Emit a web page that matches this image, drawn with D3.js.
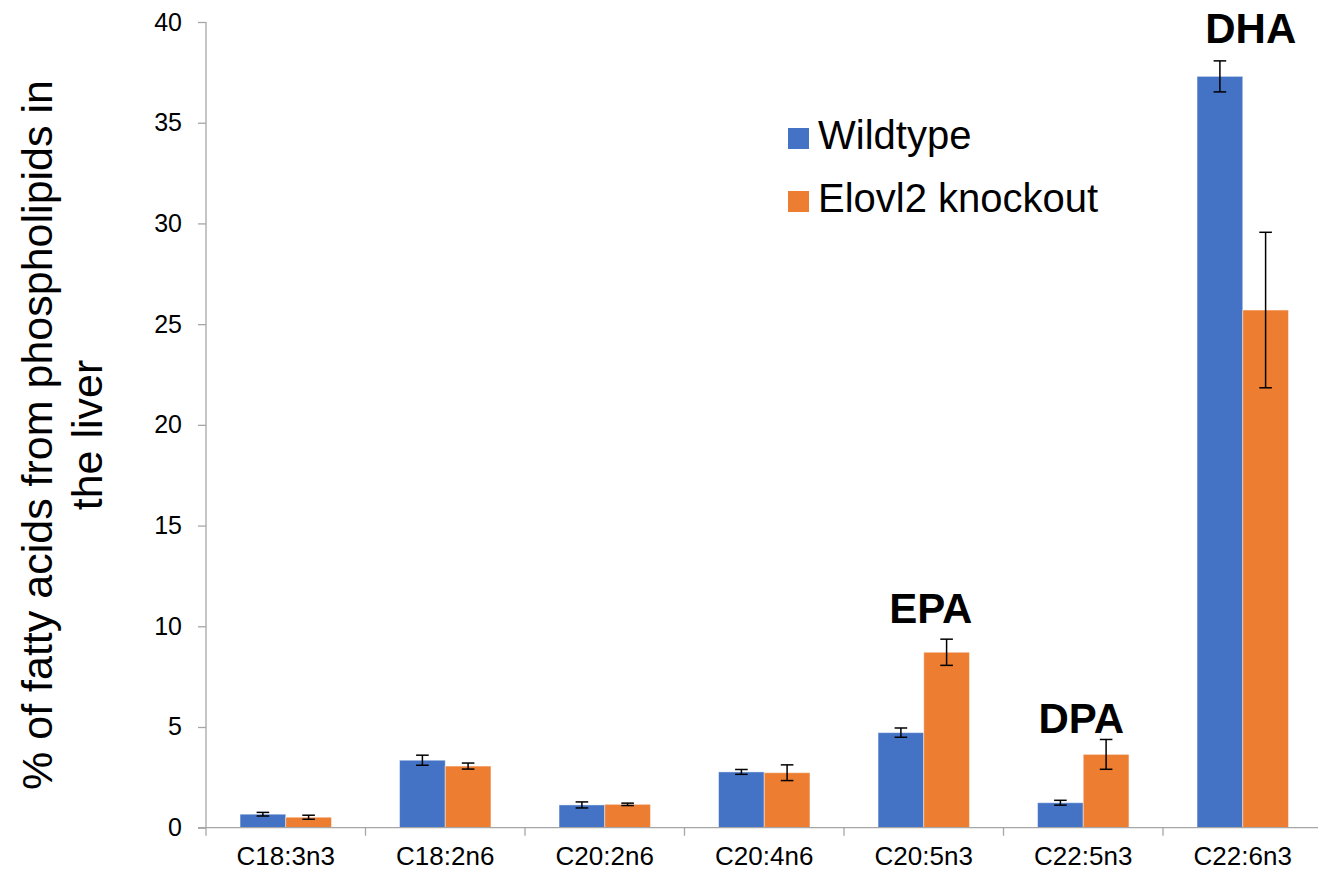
<!DOCTYPE html>
<html>
<head>
<meta charset="utf-8">
<script src="https://cdn.jsdelivr.net/npm/d3@7"></script>
<style>
  html, body { margin: 0; padding: 0; background: #fff; }
  svg { display: block; font-family: Arial, "Liberation Sans", sans-serif; }
</style>
</head>
<body>
<svg id="chart" width="1318" height="872"></svg>
<script>
// ---- data ----
const categories = ["C18:3n3", "C18:2n6", "C20:2n6", "C20:4n6", "C20:5n3", "C22:5n3", "C22:6n3"];
const seriesNames = ["Wildtype", "Elovl2 knockout"];
const wildtypeValues = [0.67, 3.35, 1.13, 2.77, 4.72, 1.24, 37.3];
const wildtypeErrors = [0.09, 0.25, 0.15, 0.12, 0.23, 0.12, 0.77];
const knockoutValues = [0.52, 3.06, 1.16, 2.73, 8.71, 3.64, 25.7];
const knockoutErrors = [0.10, 0.15, 0.06, 0.39, 0.65, 0.74, 3.86];
const yTicks = [0, 5, 10, 15, 20, 25, 30, 35, 40];
const annotations = [
  { text: "EPA", category: "C20:5n3", value: 10.16 },
  { text: "DPA", category: "C22:5n3", value: 4.7 },
  { text: "DHA", category: "C22:6n3", value: 38.96 }
];
const yTitleLines = ["% of fatty acids from phospholipids in", "the liver"];

// ---- layout ----
const colors = { "Wildtype": "#4472C4", "Elovl2 knockout": "#ED7D31" };
const svg = d3.select("#chart");
const plotLeft = 206, plotRight = 1322.5, plotTop = 22, plotBottom = 827.7;

const x0 = d3.scaleBand().domain(categories).range([plotLeft, plotRight]).padding(0);
const x1 = d3.scaleBand().domain(seriesNames).range([0, x0.bandwidth()])
  .paddingInner(0).paddingOuter(0.745);
const y = d3.scaleLinear().domain([0, 40]).range([plotBottom, plotTop]);

const rows = categories.map((c, i) => ({
  category: c,
  bars: [
    { series: "Wildtype", value: wildtypeValues[i], err: wildtypeErrors[i] },
    { series: "Elovl2 knockout", value: knockoutValues[i], err: knockoutErrors[i] }
  ]
}));

const axisColor = "#A6A6A6";

// y axis
const yAxis = svg.append("g").attr("transform", `translate(${plotLeft},0)`)
  .call(d3.axisLeft(y).tickValues(yTicks).tickSize(8).tickPadding(16).tickFormat(d3.format("d")));
yAxis.select(".domain").attr("stroke", axisColor).attr("stroke-width", 1.3)
  .attr("d", `M0,${plotTop}V${plotBottom}`);
yAxis.selectAll(".tick line").attr("stroke", axisColor).attr("stroke-width", 1.3);
yAxis.selectAll(".tick text").attr("font-size", 25).attr("fill", "#000")
  .attr("font-family", "Arial, 'Liberation Sans', sans-serif");

// bars
const groups = svg.append("g").selectAll("g").data(rows).join("g")
  .attr("transform", d => `translate(${x0(d.category)},0)`);

groups.selectAll("rect").data(d => d.bars).join("rect")
  .attr("x", d => x1(d.series))
  .attr("y", d => y(d.value))
  .attr("width", x1.bandwidth())
  .attr("height", d => y(0) - y(d.value))
  .attr("fill", d => colors[d.series])
  .attr("stroke", "#ffffff").attr("stroke-opacity", 0.45).attr("stroke-width", 1);

// error bars
const cap = 6.3;
const eb = groups.selectAll("g.err").data(d => d.bars).join("g").attr("class", "err")
  .attr("stroke", "#000").attr("stroke-width", 1.5).attr("fill", "none");
eb.append("line")
  .attr("x1", d => x1(d.series) + x1.bandwidth() / 2)
  .attr("x2", d => x1(d.series) + x1.bandwidth() / 2)
  .attr("y1", d => y(d.value + d.err)).attr("y2", d => y(d.value - d.err));
eb.append("line")
  .attr("x1", d => x1(d.series) + x1.bandwidth() / 2 - cap)
  .attr("x2", d => x1(d.series) + x1.bandwidth() / 2 + cap)
  .attr("y1", d => y(d.value + d.err)).attr("y2", d => y(d.value + d.err));
eb.append("line")
  .attr("x1", d => x1(d.series) + x1.bandwidth() / 2 - cap)
  .attr("x2", d => x1(d.series) + x1.bandwidth() / 2 + cap)
  .attr("y1", d => y(d.value - d.err)).attr("y2", d => y(d.value - d.err));

// x axis (drawn over bars)
const xAxis = svg.append("g").attr("transform", `translate(0,${plotBottom})`)
  .call(d3.axisBottom(x0).tickSize(0).tickPadding(19));
xAxis.select(".domain").attr("stroke", axisColor).attr("stroke-width", 1.3)
  .attr("d", `M${plotLeft - 8},0H${plotRight}`);
xAxis.selectAll(".tick text").attr("font-size", 26).attr("fill", "#000")
  .attr("font-family", "Arial, 'Liberation Sans', sans-serif");
// category boundary tick marks
const bounds = categories.map(c => x0(c)).concat([x0(categories[categories.length - 1]) + x0.bandwidth()]);
xAxis.selectAll("line.bound").data(bounds).join("line").attr("class", "bound")
  .attr("x1", d => d).attr("x2", d => d).attr("y1", 0).attr("y2", 8)
  .attr("stroke", axisColor).attr("stroke-width", 1.3);

// annotations
const annoOffset = { "EPA": 7, "DPA": -2, "DHA": 8 };
svg.append("g").selectAll("text").data(annotations).join("text")
  .attr("x", d => x0(d.category) + x0.bandwidth() / 2 + annoOffset[d.text])
  .attr("y", d => y(d.value))
  .attr("text-anchor", "middle")
  .attr("font-size", 42).attr("font-weight", "bold").attr("fill", "#000")
  .text(d => d.text);

// legend
const legend = svg.append("g").attr("transform", "translate(788,128)");
const li = legend.selectAll("g").data(seriesNames).join("g")
  .attr("transform", (d, i) => `translate(0,${i * 63})`);
li.append("rect").attr("width", 21).attr("height", 21).attr("fill", d => colors[d]);
li.append("text").attr("x", 30).attr("y", 21)
  .attr("font-size", 40).attr("fill", "#000").text(d => d);

// y title
const yTitle = svg.append("text")
  .attr("transform", `translate(0,435) rotate(-90)`)
  .attr("text-anchor", "middle").attr("font-size", 43).attr("fill", "#000");
yTitle.selectAll("tspan").data(yTitleLines).join("tspan")
  .attr("x", 0).attr("y", (d, i) => 52 + i * 50).text(d => d);
</script>
</body>
</html>
